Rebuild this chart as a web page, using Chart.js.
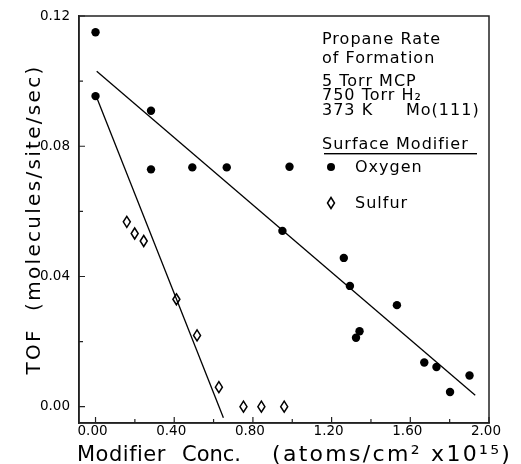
<!DOCTYPE html>
<html>
<head>
<meta charset="utf-8">
<script src="https://cdn.jsdelivr.net/npm/chart.js@4.4.1/dist/chart.umd.min.js"></script>
<style>
  html, body { margin: 0; padding: 0; background: #fff; }
</style>
</head>
<body>
<canvas id="tof" width="521" height="464"></canvas>
<script>
// Oxygen modified surface (filled circles)
const oxygenConc = [0.0, 0.0, 0.282, 0.282, 0.492, 0.667, 0.986, 0.950, 1.262, 1.293,
                    1.532, 1.342, 1.324, 1.671, 1.733, 1.901, 1.802];
const oxygenTof  = [0.1150, 0.0954, 0.0909, 0.0729, 0.0735, 0.0735, 0.0737, 0.0540, 0.0457, 0.0371,
                    0.0312, 0.0232, 0.0212, 0.0136, 0.0122, 0.0096, 0.0045];

// Sulfur modified surface (open diamonds)
const sulfurConc = [0.159, 0.199, 0.245, 0.411, 0.516, 0.627, 0.752, 0.843, 0.959];
const sulfurTof  = [0.0568, 0.0532, 0.0509, 0.0330, 0.0219, 0.0060, 0.0, 0.0, 0.0];

// fitted lines (end points)
const oxygenFitConc = [0.006, 1.930];
const oxygenFitTof  = [0.1030, 0.0035];
const sulfurFitConc = [0.003, 0.650];
const sulfurFitTof  = [0.0954, -0.0034];

// axis ticks
const xTicks = [0.0, 0.4, 0.8, 1.2, 1.6, 2.0];
const xMinor = [0.2, 0.6, 1.0, 1.4, 1.8];
const yTicks = [0.0, 0.04, 0.08, 0.12];
const yMinor = [0.02, 0.06, 0.10];

const infoLines = ["Propane Rate", "of Formation", "5 Torr MCP", "750 Torr H\u2082"];

function toPoints(xs, ys) {
  return xs.map((x, i) => ({ x: x, y: ys[i] }));
}

// tall open diamond
function diamondPath(ctx, x, y) {
  ctx.beginPath();
  ctx.moveTo(x, y - 5.5);
  ctx.lineTo(x + 3.5, y);
  ctx.lineTo(x, y + 5.5);
  ctx.lineTo(x - 3.5, y);
  ctx.closePath();
  ctx.stroke();
}

Chart.defaults.font.family = "'DejaVu Sans', sans-serif";
Chart.defaults.color = "#000";

// sulfur points: positions come from the chart's own elements
const diamonds = {
  id: "diamonds",
  afterDatasetsDraw(chart) {
    const ctx = chart.ctx;
    const meta = chart.getDatasetMeta(3);
    ctx.save();
    ctx.strokeStyle = "#000";
    ctx.lineWidth = 1.5;
    meta.data.forEach(el => diamondPath(ctx, el.x, el.y));
    ctx.restore();
  }
};

// axis titles, text block, frame and inward ticks
const labels = {
  id: "labels",
  afterDraw(chart) {
    const ctx = chart.ctx;
    const a = chart.chartArea;
    const xs = chart.scales.x;
    const ys = chart.scales.y;
    ctx.save();
    ctx.fillStyle = "#000";
    ctx.strokeStyle = "#000";
    ctx.textBaseline = "alphabetic";
    ctx.textAlign = "left";

    // x title
    ctx.font = "21px 'DejaVu Sans'";
    ctx.letterSpacing = "0.5px";
    ctx.fillText("Modifier", 77, 461);
    ctx.letterSpacing = "0px";
    ctx.fillText("Conc.", 182, 461);
    ctx.font = "22px 'DejaVu Sans'";
    ctx.letterSpacing = "2.3px";
    ctx.fillText("(atoms/cm\u00B2 x10\u00B9\u2075)", 272, 461);

    // y title
    ctx.save();
    ctx.translate(40, (a.top + a.bottom) / 2);
    ctx.rotate(-Math.PI / 2);
    ctx.font = "20px 'DejaVu Sans'";
    ctx.letterSpacing = "2.3px";
    ctx.textAlign = "center";
    ctx.fillText("TOF  (molecules/site/sec)", 0, 0);
    ctx.restore();

    // text block
    ctx.font = "16px 'DejaVu Sans'";
    ctx.letterSpacing = "1px";
    ctx.textAlign = "left";
    const baselines = [44, 63, 86, 100];
    infoLines.forEach((t, i) => ctx.fillText(t, 322, baselines[i]));
    ctx.fillText("373 K", 322, 115);
    ctx.fillText("Mo(111)", 406, 115);
    ctx.fillText("Surface Modifier", 322, 149);
    ctx.fillRect(324, 153, 153, 1.4);

    ctx.fillText("Oxygen", 355, 172);
    ctx.fillText("Sulfur", 355, 208);
    ctx.beginPath();
    ctx.arc(331, 167, 4, 0, Math.PI * 2);
    ctx.fill();
    ctx.lineWidth = 1.5;
    diamondPath(ctx, 331, 203);

    // frame
    ctx.strokeStyle = "#222";
    ctx.lineWidth = 1.5;
    ctx.strokeRect(a.left, a.top, a.right - a.left, a.bottom - a.top);

    // inward ticks
    ctx.lineWidth = 1.2;
    ctx.beginPath();
    xTicks.forEach(v => { const p = xs.getPixelForValue(v); ctx.moveTo(p, a.bottom); ctx.lineTo(p, a.bottom - 6); });
    xMinor.forEach(v => { const p = xs.getPixelForValue(v); ctx.moveTo(p, a.bottom); ctx.lineTo(p, a.bottom - 4); });
    yTicks.forEach(v => { const p = ys.getPixelForValue(v); ctx.moveTo(a.left, p); ctx.lineTo(a.left + 6, p); });
    yMinor.forEach(v => { const p = ys.getPixelForValue(v); ctx.moveTo(a.left, p); ctx.lineTo(a.left + 4, p); });
    ctx.stroke();
    ctx.restore();
  }
};

new Chart(document.getElementById("tof"), {
  type: "scatter",
  data: {
    datasets: [
      {
        label: "Oxygen fit",
        data: toPoints(oxygenFitConc, oxygenFitTof),
        showLine: true,
        borderColor: "#000",
        backgroundColor: "#000",
        borderWidth: 1.3,
        pointRadius: 0
      },
      {
        label: "Sulfur fit",
        data: toPoints(sulfurFitConc, sulfurFitTof),
        showLine: true,
        borderColor: "#000",
        backgroundColor: "#000",
        borderWidth: 1.3,
        pointRadius: 0
      },
      {
        label: "Oxygen",
        data: toPoints(oxygenConc, oxygenTof),
        pointStyle: "circle",
        pointRadius: 4.2,
        backgroundColor: "#000",
        borderColor: "#000",
        borderWidth: 0
      },
      {
        label: "Sulfur",
        data: toPoints(sulfurConc, sulfurTof),
        backgroundColor: "#000",
        borderColor: "#000",
        pointRadius: 0
      }
    ]
  },
  options: {
    responsive: false,
    animation: false,
    devicePixelRatio: 1,
    events: [],
    layout: { padding: { top: 16, right: 32, left: 0, bottom: 0 } },
    plugins: {
      legend: { display: false },
      tooltip: { enabled: false }
    },
    scales: {
      x: {
        type: "linear",
        min: -0.084,
        max: 2.0,
        afterBuildTicks: s => { s.ticks = xTicks.map(v => ({ value: v })); },
        afterFit: s => { s.height = 41; s.paddingLeft = 0; s.paddingRight = 0; },
        grid: { display: false, drawTicks: false },
        border: { display: true, color: "#222", width: 1.5 },
        ticks: {
          font: { size: 13.5 },
          padding: 0,
          labelOffset: -3,
          maxRotation: 0,
          autoSkip: false,
          callback: v => v.toFixed(2)
        }
      },
      y: {
        type: "linear",
        min: -0.005,
        max: 0.12,
        afterBuildTicks: s => { s.ticks = yTicks.map(v => ({ value: v })); },
        afterFit: s => { s.width = 79; s.paddingTop = 0; s.paddingBottom = 0; },
        grid: { display: false, drawTicks: false },
        border: { display: true, color: "#222", width: 1.5 },
        ticks: {
          font: { size: 13.5 },
          padding: 9,
          callback: v => v.toFixed(2)
        }
      }
    }
  },
  plugins: [diamonds, labels]
});
</script>
</body>
</html>
